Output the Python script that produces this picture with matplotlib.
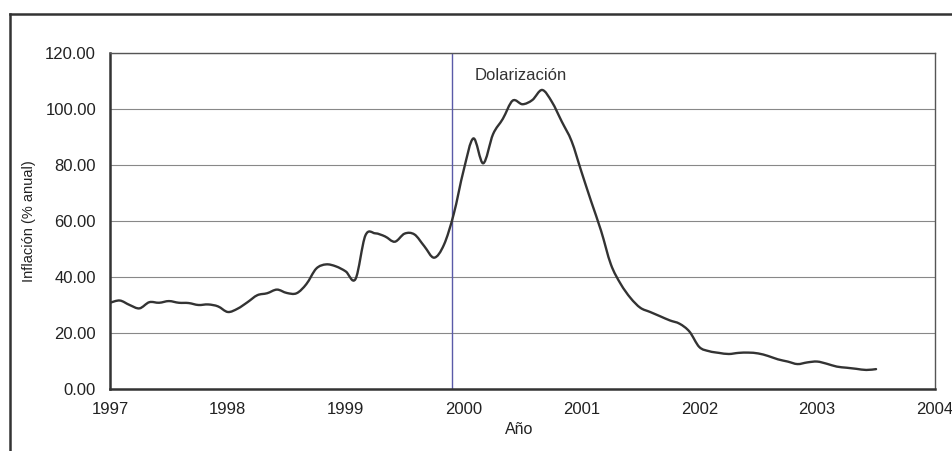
import matplotlib
matplotlib.use("Agg")
import matplotlib.pyplot as plt
from matplotlib.lines import Line2D
from matplotlib.path import Path
from matplotlib.patches import PathPatch

# Monthly inflation (% anual), Jan 1997 .. Jul 2003
months = list(range(79))
inflation = [
    30.8, 31.6, 30.0, 28.8, 31.0, 30.8, 31.4, 30.8, 30.7, 30.0, 30.2, 29.5,
    27.5, 28.7, 31.0, 33.5, 34.2, 35.5, 34.3, 34.2, 37.5, 43.0, 44.5, 43.8,
    42.0, 39.3, 54.8, 55.6, 54.5, 52.6, 55.5, 55.2, 51.0, 46.9, 51.5, 62.5,
    78.0, 89.5, 80.6, 91.0, 96.5, 103.0, 101.7, 103.2, 106.8, 102.5, 95.5, 88.5,
    77.6, 66.9, 56.5, 44.5, 37.5, 32.5, 29.0, 27.5, 26.0, 24.5, 23.3, 20.5,
    15.0, 13.5, 12.9, 12.5, 12.9, 13.0, 12.7, 11.8, 10.6, 9.8, 8.9, 9.5,
    9.8, 9.0, 8.0, 7.6, 7.2, 6.8, 7.1,
]
years = [1997 + m / 12 for m in months]
x_ticks = [1997, 1998, 1999, 2000, 2001, 2002, 2003, 2004]
y_ticks = [0, 20, 40, 60, 80, 100, 120]
dollarization_date = 1999.9

plt.rcParams['font.family'] = ['Liberation Sans', 'DejaVu Sans']

fig = plt.figure(figsize=(9.53, 4.51), dpi=100)
fig.patch.set_facecolor('white')
ax = fig.add_axes([110/953, 62/451, 825/953, 336/451])

# smoothed line (Excel-style): Catmull-Rom segments as cubic Bezier curves
pts = list(zip(years, inflation))
verts = [pts[0]]
codes = [Path.MOVETO]
n = len(pts)
for i in range(n - 1):
    p0 = pts[i - 1] if i > 0 else pts[i]
    p1 = pts[i]
    p2 = pts[i + 1]
    p3 = pts[i + 2] if i + 2 < n else pts[i + 1]
    c1 = (p1[0] + (p2[0] - p0[0]) / 6, p1[1] + (p2[1] - p0[1]) / 6)
    c2 = (p2[0] - (p3[0] - p1[0]) / 6, p2[1] - (p3[1] - p1[1]) / 6)
    verts += [c1, c2, p2]
    codes += [Path.CURVE4] * 3
ax.add_patch(PathPatch(Path(verts, codes), fill=False, edgecolor='#333333',
                       lw=1.7, capstyle='round', joinstyle='round', zorder=3))

ax.axvline(dollarization_date, color='#5a5aa8', lw=1.0, zorder=2)
ax.text(dollarization_date + 0.19, 112, 'Dolarización', fontsize=12,
        color='#333333', va='center', ha='left')

ax.set_xlim(1997, 2004)
ax.set_ylim(0, 120)
ax.set_xticks(x_ticks)
ax.set_xticklabels([str(y) for y in x_ticks])
ax.set_yticks(y_ticks)
ax.set_yticklabels([f'{v:.2f}' for v in y_ticks])
ax.tick_params(length=0, labelsize=12, colors='#222222')
ax.tick_params(axis='y', pad=10)
ax.tick_params(axis='x', pad=9)
ax.yaxis.grid(True, color='#888888', lw=0.8)
ax.set_axisbelow(True)

for s in ['left', 'bottom']:
    ax.spines[s].set_color('#333333')
    ax.spines[s].set_linewidth(1.8)
for s in ['top', 'right']:
    ax.spines[s].set_color('#555555')
    ax.spines[s].set_linewidth(1.0)

fig.text(29/953, 1 - 221/451, 'Inflación (% anual)', rotation=90,
         fontsize=10.5, ha='center', va='center', color='#222222')
fig.text(519/953, 1 - 430/451, 'Año', fontsize=11.5, ha='center',
         va='center', color='#222222')

# outer chart frame (cut by the image edges)
fig.add_artist(Line2D([10/953, 1.0], [1 - 14/451, 1 - 14/451],
                      color='#333333', lw=1.8, transform=fig.transFigure))
fig.add_artist(Line2D([10/953, 10/953], [0, 1 - 14/451],
                      color='#333333', lw=1.8, transform=fig.transFigure))

fig.savefig('out.png', dpi=100, facecolor='white')
